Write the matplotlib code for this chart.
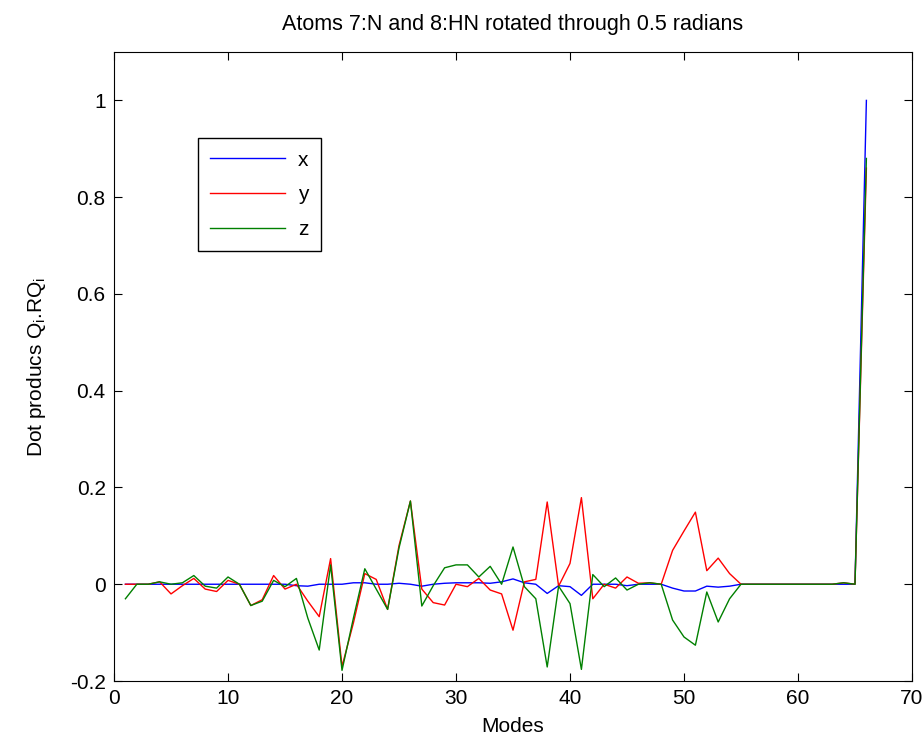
import matplotlib.pyplot as plt

plt.rcParams['font.family'] = ['Liberation Sans', 'DejaVu Sans']

modes = list(range(1, 67))

# dot products per mode
x_vals = [0, 0, 0, 0, 0, 0, 0, 0, 0, 0,
          0, 0, 0, 0, 0, -0.003, -0.004, 0, 0, 0,
          0.003, 0.003, 0, 0, 0.002, 0, -0.004, 0, 0.002, 0.003,
          0.003, 0.003, 0.002, 0.005, 0.011, 0.003, 0, -0.019, -0.003, -0.005,
          -0.023, 0, 0, 0, -0.003, 0, 0, 0, -0.008, -0.014,
          -0.014, -0.004, -0.006, -0.004, 0, 0, 0, 0, 0, 0,
          0, 0, 0, 0, 0, 1.0]
y_vals = [0, 0, 0, 0.005, -0.02, -0.003, 0.012, -0.01, -0.015, 0.008,
          0, -0.044, -0.032, 0.018, -0.01, 0, -0.035, -0.067, 0.053, -0.17,
          -0.08, 0.022, 0.01, -0.052, 0.08, 0.172, -0.01, -0.038, -0.043, 0,
          -0.005, 0.012, -0.012, -0.02, -0.095, 0.005, 0.01, 0.17, -0.004, 0.043,
          0.179, -0.03, 0, -0.008, 0.015, 0.002, 0.003, 0, 0.07, 0.11,
          0.149, 0.028, 0.054, 0.022, 0, 0, 0, 0, 0, 0,
          0, 0, 0, 0.003, 0, 0.86]
z_vals = [-0.03, 0, 0, 0.005, 0, 0.003, 0.018, -0.004, -0.008, 0.015,
          0, -0.044, -0.035, 0.008, -0.005, 0.012, -0.07, -0.136, 0.04, -0.178,
          -0.07, 0.032, -0.01, -0.052, 0.075, 0.172, -0.045, -0.003, 0.034, 0.04,
          0.04, 0.015, 0.037, 0, 0.077, -0.005, -0.03, -0.171, -0.004, -0.04,
          -0.176, 0.02, -0.005, 0.013, -0.012, 0, 0.003, 0, -0.074, -0.109,
          -0.126, -0.016, -0.078, -0.03, 0, 0, 0, 0, 0, 0,
          0, 0, 0, 0.003, 0, 0.88]

fig = plt.figure(figsize=(9.24, 7.42), dpi=100)
ax = fig.add_axes([0.1234, 0.0822, 0.8636, 0.8477])

ax.plot(modes, x_vals, color='#0000ff', lw=1, label='x')
ax.plot(modes, y_vals, color='#ff0000', lw=1, label='y')
ax.plot(modes, z_vals, color='#008000', lw=1, label='z')

ax.set_xlim(0, 70)
ax.set_ylim(-0.2, 1.1)
ax.set_xticks([0, 10, 20, 30, 40, 50, 60, 70])
ax.set_yticks([-0.2, 0, 0.2, 0.4, 0.6, 0.8, 1])
ax.set_yticklabels(['-0.2', '0', '0.2', '0.4', '0.6', '0.8', '1'])
ax.tick_params(direction='in', top=True, right=True, labelsize=15, length=6, pad=6)

ax.set_title('Atoms 7:N and 8:HN rotated through 0.5 radians', fontsize=15.5, pad=16)
ax.set_xlabel('Modes', fontsize=15, labelpad=6)
ax.set_ylabel(r'Dot producs Q$_\mathregular{i}$.RQ$_\mathregular{i}$', fontsize=15, labelpad=16)

leg = ax.legend(loc='upper left', bbox_to_anchor=(0.105, 0.863), borderaxespad=0,
                fontsize=15, fancybox=False, edgecolor='black', framealpha=1,
                handlelength=3.6, handletextpad=0.6, borderpad=0.6, labelspacing=0.75)
leg.get_frame().set_linewidth(1)

fig.savefig('out.png', dpi=100)
